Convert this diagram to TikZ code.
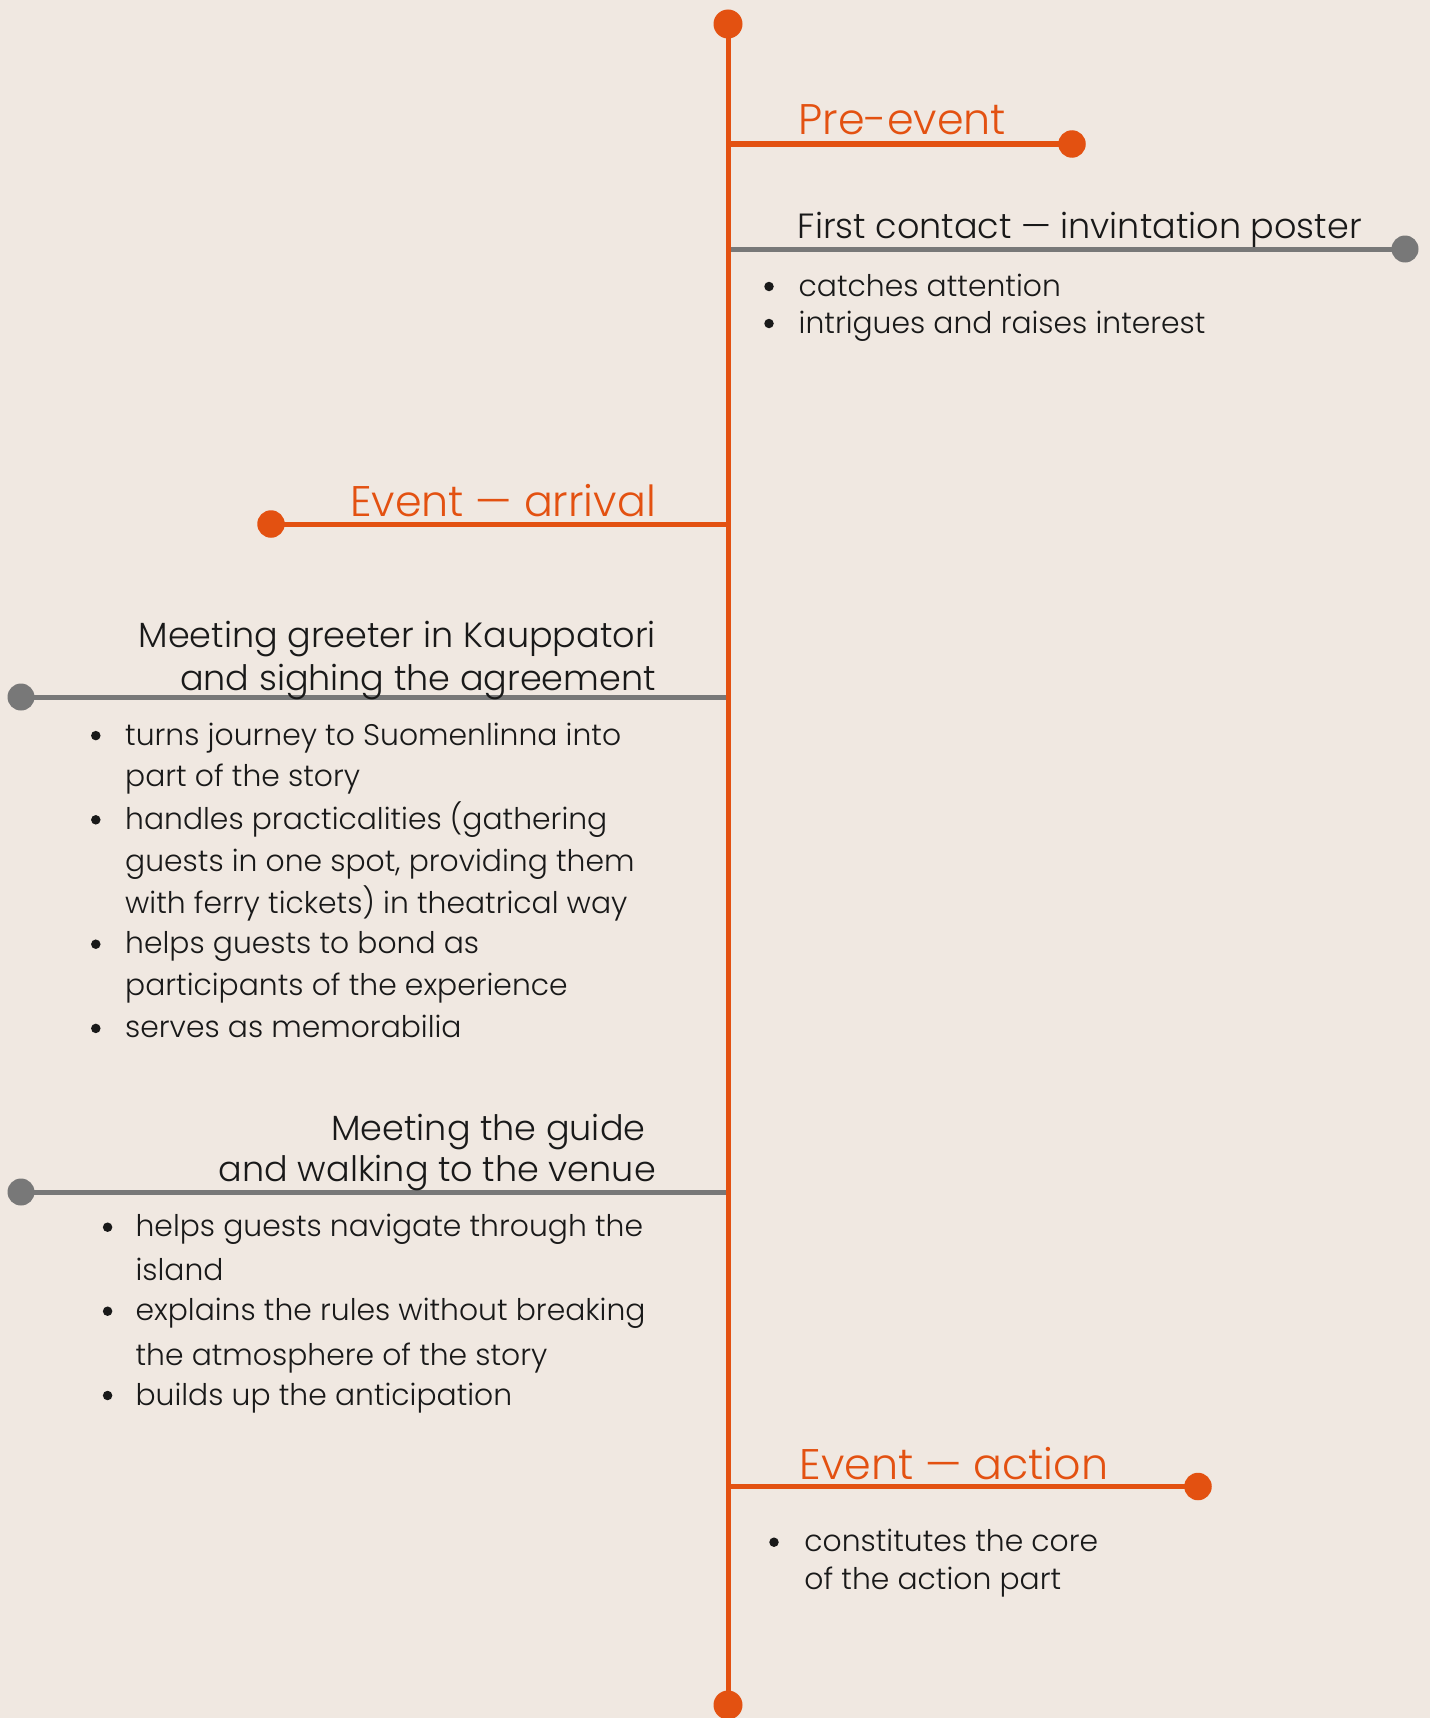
\documentclass[tikz,border=0pt]{standalone}
\usepackage{fontspec}
\setmainfont{Poppins}[UprightFont = * Light]
\definecolor{bgc}{RGB}{240,232,225}
\definecolor{orng}{RGB}{227,81,17}
\definecolor{gry}{RGB}{120,120,120}
\definecolor{ink}{RGB}{25,25,25}
\tikzset{
  dotO/.style={circle, fill=orng, inner sep=0pt, minimum size=27.5pt},
  dotG/.style={circle, fill=gry, inner sep=0pt, minimum size=27pt},
  brO/.style={draw=orng, line width=5pt},
  brG/.style={draw=gry, line width=5pt},
  hO/.style={text=orng, inner sep=0pt, font=\fontsize{42.8}{42.8}\selectfont},
  hG/.style={text=ink, inner sep=0pt, font=\fontsize{35}{35}\selectfont},
  bl/.style={text=ink, inner sep=0pt, font=\fontsize{29.8}{29.8}\selectfont},
  bdot/.style={circle, fill=ink, inner sep=0pt, minimum size=9.5pt},
}
\begin{document}
\begin{tikzpicture}[x=1pt,y=-1pt]
\fill[bgc] (0,0) rectangle (1430,1718);
\useasboundingbox (0,0) rectangle (1430,1718);
% spine ends
\node[dotO, minimum size=29pt] (top) at (728,24) {};
\node[dotO, minimum size=29pt] (bot) at (728,1705) {};
% branch anchors
\coordinate (s1) at (728,144);
\coordinate (s2) at (728,249);
\coordinate (s3) at (728,524);
\coordinate (s4) at (728,697);
\coordinate (s5) at (728,1192);
\coordinate (s6) at (728,1486.5);
\node[dotO] (d1) at (1072,144) {};
\node[dotG] (d2) at (1405,249) {};
\node[dotO] (d3) at (271,524) {};
\node[dotG] (d4) at (21,697) {};
\node[dotG] (d5) at (21,1192) {};
\node[dotO] (d6) at (1198,1486.5) {};
\draw[brO] (s1) -- (d1.center);
\draw[brG] (s2) -- (d2.center);
\draw[brO] (s3) -- (d3.center);
\draw[brG] (s4) -- (d4.center);
\draw[brG] (s5) -- (d5.center);
\draw[brO] (s6) -- (d6.center);
\draw[orng, line width=5pt] (top.center) -- (bot.center);
% headings
\node[hO, anchor=base west] (h1) at (798.5,135) {Pre-event};
\node[hG, anchor=base west] (h2) at (797.6,238) {First contact — invintation poster};
\node[hO, anchor=base east] (h3) at (656,516.6) {Event — arrival};
\node[hG, anchor=base east] (h4a) at (656,647.5) {Meeting greeter in Kauppatori};
\node[hG, anchor=base east] (h4b) at (656,690.8) {and sighing the agreement};
\node[hG, anchor=base east] (h5a) at (645.6,1140) {Meeting the guide};
\node[hG, anchor=base east] (h5b) at (656,1181.7) {and walking to the venue};
\node[hO, anchor=base west] (h6) at (799.5,1479) {Event — action};
% bullets section 2
\node[bdot] (b21) at (769,286.5) {};
\node[bl, anchor=base west] (t21) at (798.5,296) {catches attention};
\node[bdot] (b22) at (769,323.5) {};
\node[bl, anchor=base west] (t22) at (798.5,333) {intrigues and raises interest};
% bullets section 4
\node[bdot] (b41) at (95.8,735.6) {};
\node[bl, anchor=base west] (t41) at (125,745.1) {turns journey to Suomenlinna into};
\node[bl, anchor=base west] (t42) at (125,786.4) {part of the story};
\node[bdot] (b43) at (95.8,819.8) {};
\node[bl, anchor=base west] (t43) at (125,829.3) {handles practicalities (gathering};
\node[bl, anchor=base west] (t44) at (125,871.4) {guests in one spot, providing them};
\node[bl, anchor=base west] (t45) at (125,913.5) {with ferry tickets) in theatrical way};
\node[bdot] (b46) at (95.8,944.2) {};
\node[bl, anchor=base west] (t46) at (125,953.7) {helps guests to bond as};
\node[bl, anchor=base west] (t47) at (125,995) {participants of the experience};
\node[bdot] (b48) at (95.8,1028.4) {};
\node[bl, anchor=base west] (t48) at (125,1037.9) {serves as memorabilia};
% bullets section 5
\node[bdot] (b51) at (107.6,1227.2) {};
\node[bl, anchor=base west] (t51) at (135.4,1236.7) {helps guests navigate through the};
\node[bl, anchor=base west] (t52) at (135.4,1280) {island};
\node[bdot] (b53) at (107.6,1311.2) {};
\node[bl, anchor=base west] (t53) at (135.4,1320.7) {explains the rules without breaking};
\node[bl, anchor=base west] (t54) at (135.4,1365) {the atmosphere of the story};
\node[bdot] (b55) at (107.6,1395.5) {};
\node[bl, anchor=base west] (t55) at (135.4,1405) {builds up the anticipation};
% bullets section 6
\node[bdot] (b61) at (774,1542.2) {};
\node[bl, anchor=base west] (t61) at (804.2,1551.7) {constitutes the core};
\node[bl, anchor=base west] (t62) at (804.2,1589.3) {of the action part};
\end{tikzpicture}
\end{document}
